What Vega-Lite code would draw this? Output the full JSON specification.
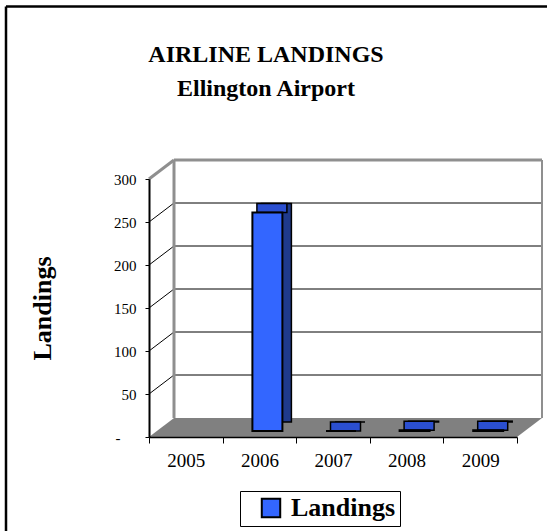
{
  "$schema": "https://vega.github.io/schema/vega-lite/v6.json",
  "width": 368,
  "height": 258,
  "autosize": "none",
  "padding": {"left": 149, "top": 179, "right": 30, "bottom": 94},
  "background": "white",
  "config": {"view": {"stroke": null}, "font": "Liberation Serif"},
  "title": {
    "text": ["AIRLINE LANDINGS", "Ellington Airport"],
    "fontSize": 24,
    "fontWeight": "bold",
    "font": "Liberation Serif",
    "color": "black",
    "anchor": "middle",
    "dx": -67,
    "offset": -96,
    "lineHeight": 34
  },
  "datasets": {
    "landings": [
      {"year": "2006", "landings": 254, "series": "Landings"},
      {"year": "2007", "landings": 0, "series": "Landings"},
      {"year": "2008", "landings": 1, "series": "Landings"},
      {"year": "2009", "landings": 1, "series": "Landings"}
    ],
    "grid": [{"v": 50}, {"v": 100}, {"v": 150}, {"v": 200}, {"v": 250}],
    "top": [{"v": 300}]
  },
  "layer": [
    {
      "data": {"name": "top"},
      "mark": {"type": "rule", "color": "black", "strokeWidth": 2.5, "xOffset": -179.8, "x2Offset": 76.8, "yOffset": -172.5},
      "encoding": {
        "x": {"datum": "2005"},
        "x2": {"datum": "2009"},
        "y": {"field": "v", "type": "quantitative"}
      }
    },
    {
      "data": {"name": "top"},
      "mark": {"type": "rule", "color": "black", "strokeWidth": 2.5, "xOffset": -179.8, "yOffset": -172.5, "y2Offset": 110},
      "encoding": {
        "x": {"datum": "2005"},
        "y": {"field": "v", "type": "quantitative"},
        "y2": {"datum": 0}
      }
    },
    {
      "data": {"name": "top"},
      "mark": {"type": "point", "shape": "M-1,0.0483L-0.8728,-0.0483L1,-0.0483L0.8728,0.0483Z", "size": 154449, "filled": true, "color": "#808080", "opacity": 1, "strokeWidth": 0, "xOffset": 12.5, "yOffset": -9.5},
      "encoding": {
        "x": {"datum": "2007"},
        "y": {"datum": 0}
      }
    },
    {
      "data": {"name": "grid"},
      "mark": {"type": "rule", "color": "black", "strokeWidth": 1, "xOffset": -11.8, "x2Offset": 61.8, "yOffset": -19},
      "encoding": {
        "x": {"datum": "2005"},
        "x2": {"datum": "2009"},
        "y": {"field": "v", "type": "quantitative"}
      }
    },
    {
      "data": {"name": "grid"},
      "mark": {"type": "rule", "color": "black", "strokeWidth": 1, "xOffset": -36.8, "x2Offset": -11.8, "y2Offset": -19},
      "encoding": {
        "x": {"datum": "2005"},
        "x2": {"datum": "2005"},
        "y": {"field": "v", "type": "quantitative"},
        "y2": {"field": "v"}
      }
    },
    {
      "data": {"name": "top"},
      "mark": {"type": "rule", "color": "#8f8f8f", "strokeWidth": 3, "xOffset": -11.8, "x2Offset": 61.8, "yOffset": -19},
      "encoding": {
        "x": {"datum": "2005"},
        "x2": {"datum": "2009"},
        "y": {"field": "v", "type": "quantitative"}
      }
    },
    {
      "data": {"name": "top"},
      "mark": {"type": "rule", "color": "#8f8f8f", "strokeWidth": 3, "xOffset": -36.8, "x2Offset": -11.8, "y2Offset": -19},
      "encoding": {
        "x": {"datum": "2005"},
        "x2": {"datum": "2005"},
        "y": {"field": "v", "type": "quantitative"},
        "y2": {"field": "v"}
      }
    },
    {
      "data": {"name": "top"},
      "mark": {"type": "rule", "color": "#8f8f8f", "strokeWidth": 3, "xOffset": -11.8, "yOffset": -19, "y2Offset": -19},
      "encoding": {
        "x": {"datum": "2005"},
        "y": {"field": "v", "type": "quantitative"},
        "y2": {"datum": 0}
      }
    },
    {
      "data": {"name": "top"},
      "mark": {"type": "rule", "color": "#8f8f8f", "strokeWidth": 2, "xOffset": 61.8, "yOffset": -19, "y2Offset": -19},
      "encoding": {
        "x": {"datum": "2009"},
        "y": {"field": "v", "type": "quantitative"},
        "y2": {"datum": 0}
      }
    },
    {
      "data": {"name": "landings"},
      "mark": {"type": "bar", "size": 30, "color": "#1f3a8c", "stroke": "black", "strokeWidth": 1.5, "xOffset": 17, "yOffset": -15, "y2Offset": -15},
      "encoding": {
        "x": {"field": "year", "type": "nominal"},
        "y": {"field": "landings", "type": "quantitative"},
        "y2": {"datum": 0}
      }
    },
    {
      "data": {"name": "landings"},
      "mark": {"type": "bar", "size": 30, "color": "#2b4fd0", "stroke": "black", "strokeWidth": 1.5, "xOffset": 12.5, "yOffset": -15, "y2Offset": -6},
      "encoding": {
        "x": {"field": "year", "type": "nominal"},
        "y": {"field": "landings", "type": "quantitative"},
        "y2": {"field": "landings"}
      }
    },
    {
      "data": {"name": "landings"},
      "mark": {"type": "bar", "size": 30, "stroke": "black", "strokeWidth": 2, "xOffset": 8, "yOffset": -6, "y2Offset": -6},
      "encoding": {
        "x": {
          "field": "year",
          "type": "nominal",
          "scale": {"domain": ["2005", "2006", "2007", "2008", "2009"], "paddingInner": 0, "paddingOuter": 0},
          "axis": {
            "title": null,
            "labelAngle": 0,
            "labelAlign": "center",
            "labelFontSize": 19,
            "labelFont": "Liberation Serif",
            "labelColor": "black",
            "labelPadding": 17,
            "tickBand": "extent",
            "tickSize": 6,
            "tickColor": "black",
            "domainColor": "black",
            "domainWidth": 1.5,
            "zindex": 1
          }
        },
        "y": {
          "field": "landings",
          "type": "quantitative",
          "scale": {"domain": [0, 300], "nice": false},
          "axis": {
            "values": [0, 50, 100, 150, 200, 250, 300],
            "labelExpr": "datum.value === 0 ? '-' : datum.label",
            "title": "Landings",
            "titleFont": "Liberation Serif",
            "titleFontSize": 26,
            "titleFontWeight": "bold",
            "titleColor": "black",
            "titlePadding": 58,
            "labelFont": "Liberation Serif",
            "labelFontSize": 15,
            "labelColor": "black",
            "labelPadding": {"condition": {"test": "datum.value === 0", "value": 25}, "value": 9},
            "tickSize": 4,
            "tickColor": "black",
            "domainColor": "black",
            "domainWidth": 2,
            "grid": false,
            "zindex": 1
          }
        },
        "y2": {"datum": 0},
        "color": {
          "field": "series",
          "type": "nominal",
          "scale": {"range": ["#3366ff"]},
          "legend": {
            "orient": "none",
            "legendX": 91,
            "legendY": 312,
            "title": null,
            "strokeColor": "black",
            "fillColor": "white",
            "padding": 4,
            "symbolType": "square",
            "symbolSize": 340,
            "symbolStrokeColor": "black",
            "symbolStrokeWidth": 2,
            "symbolOffset": 14,
            "labelOffset": 7,
            "labelFont": "Liberation Serif",
            "labelFontSize": 26,
            "labelFontWeight": "bold",
            "labelColor": "black"
          }
        }
      }
    }
  ]
}
